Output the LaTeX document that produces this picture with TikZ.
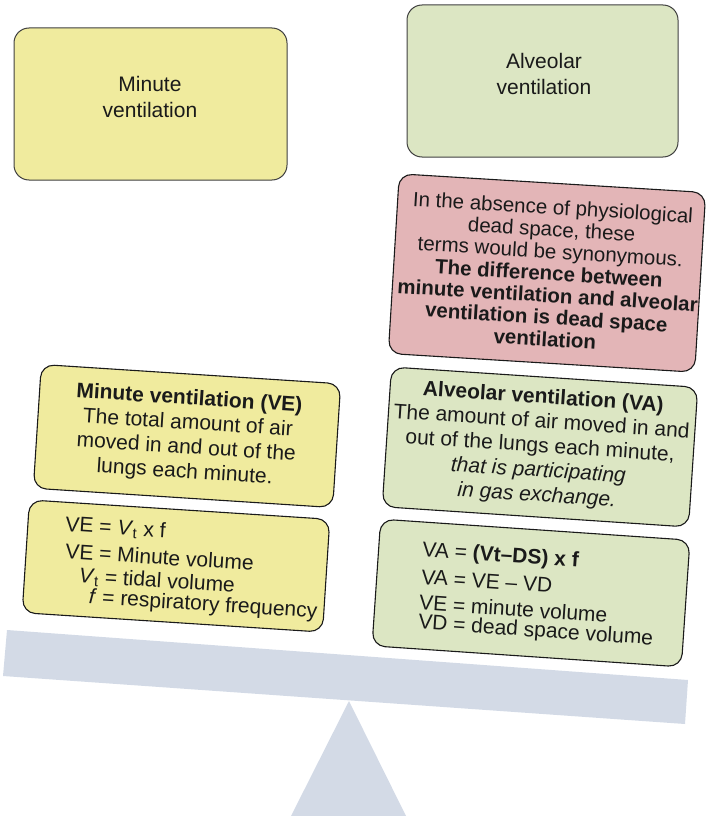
\documentclass[tikz,border=0pt]{standalone}
\usepackage{fontspec}
\setmainfont{Liberation Sans}
\definecolor{ink}{HTML}{1A1A1A}
\definecolor{edge}{HTML}{1A1A1A}
\definecolor{softedge}{HTML}{404040}
\definecolor{yellowfill}{HTML}{F0EB9E}
\definecolor{greenfill}{HTML}{DCE6C3}
\definecolor{pinkfill}{HTML}{E3B5B7}
\definecolor{steel}{HTML}{D3DAE6}
\begin{document}
\begin{tikzpicture}[x=1pt,y=-1pt,
  card/.style={draw=edge, line width=1.1pt, rounded corners=13pt, inner sep=0pt},
  headcard/.style={draw=softedge, line width=1pt, rounded corners=15pt, inner sep=0pt},
  txt/.style={font=\fontsize{21}{24.5}\selectfont, text=ink, inner sep=0pt, align=center},
  headtxt/.style={font=\fontsize{21}{26}\selectfont, text=ink, inner sep=0pt, align=center},
  eqline/.style={font=\fontsize{21}{25}\selectfont, text=ink, inner sep=0pt, anchor=base west},
]
\useasboundingbox (0,0) rectangle (707,816);

% seesaw: beam and pivot
\fill[steel] (7,630) -- (688,680) -- (685,724) -- (3,676) -- cycle;
\fill[steel] (349,701) -- (406,816) -- (291,816) -- cycle;

% headings
\node[headcard, fill=yellowfill, minimum width=273, minimum height=152] (mvhead) at (150.5,104) {};
\node[headtxt] (mvheadlabel) at (150,97) {Minute\\ventilation};
\node[headcard, fill=greenfill, minimum width=271, minimum height=152] (avhead) at (542.5,81) {};
\node[headtxt] (avheadlabel) at (544,74) {Alveolar\\ventilation};

% dead space note
\begin{scope}[shift={(547,273)}, rotate=-3.5, transform shape]
  \node[card, fill=pinkfill, minimum width=307, minimum height=180] (note) at (0,0) {};
  \node[txt, font=\fontsize{20.5}{22}\selectfont] (notetext) at (2,0) {In the absence of physiological\\dead space, these\\terms would be synonymous.\\\textbf{The difference between}\\\textbf{minute ventilation and alveolar}\\\textbf{ventilation is dead space}\\\textbf{ventilation}};
\end{scope}

% minute ventilation definition
\begin{scope}[shift={(187,436)}, rotate=-3.7, transform shape]
  \node[card, fill=yellowfill, minimum width=300, minimum height=124] (vedef) at (0,0) {};
  \node[txt] (vedeftext) at (0,0) {\textbf{Minute ventilation (VE)}\\The total amount of air\\moved in and out of the\\lungs each minute.};
\end{scope}

% alveolar ventilation definition
\begin{scope}[shift={(540,447)}, rotate=-3.8, transform shape]
  \node[card, fill=greenfill, minimum width=307, minimum height=140] (vadef) at (0,0) {};
  \node[txt] (vadeftext) at (0,0) {\textbf{Alveolar ventilation (VA)}\\The amount of air moved in and\\out of the lungs each minute,\\\textit{that is participating}\\\textit{in gas exchange.}};
\end{scope}

% minute ventilation formulas
\begin{scope}[shift={(176,566)}, rotate=-3.7, transform shape]
  \node[card, fill=yellowfill, minimum width=301, minimum height=113] (veeq) at (0,0) {};
  \node[eqline] (veeq1) at (-113,-27.7) {VE = \textit{V}\textsubscript{t} x f};
  \node[eqline] (veeq2) at (-111.3,-0.5) {VE = Minute volume};
  \node[eqline] (veeq3) at (-96.4,22.6) {\textit{V}\textsubscript{t} = tidal volume};
  \node[eqline] (veeq4) at (-85.1,42.9) {\textit{f} = respiratory frequency};
\end{scope}

% alveolar ventilation formulas
\begin{scope}[shift={(531,593)}, rotate=-3.9, transform shape]
  \node[card, fill=greenfill, minimum width=310, minimum height=127] (vaeq) at (0,0) {};
  \node[eqline] (vaeq1) at (-111.3,-29) {VA = \textbf{(Vt–DS) x f}};
  \node[eqline] (vaeq2) at (-110.4,-1.5) {VA = VE – VD};
  \node[eqline] (vaeq3) at (-111,24.5) {VE = minute volume};
  \node[eqline] (vaeq4) at (-110.5,43.5) {VD = dead space volume};
\end{scope}
\end{tikzpicture}
\end{document}
